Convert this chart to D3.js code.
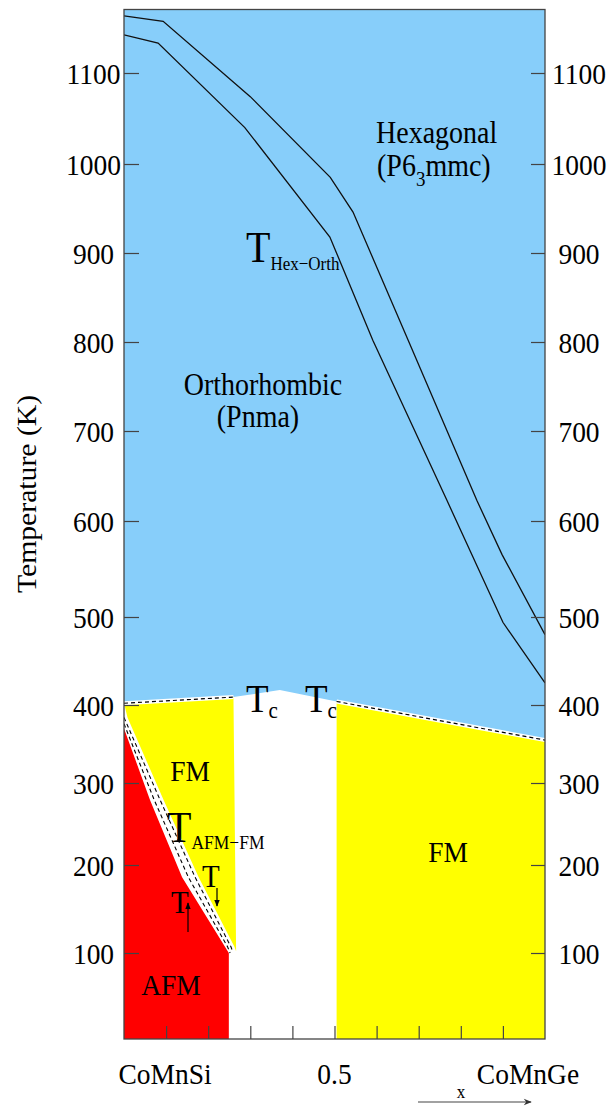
<!DOCTYPE html>
<html><head><meta charset="utf-8">
<script src="https://cdn.jsdelivr.net/npm/d3@7"></script>
<style>
body{margin:0;background:#fff}
svg{display:block}
svg text{font-family:"Liberation Serif","DejaVu Serif",serif}
</style>
</head><body>
<svg id="c" width="612" height="1106"></svg>
<script>
// ---------- data ----------
const yTickValues = [100,200,300,400,500,600,700,800,900,1000,1100];
const xTickValues = [0.1,0.2,0.3,0.4,0.5,0.6,0.7,0.8,0.9];
const xLabels = [{v:0.1,t:"CoMnSi"},{v:0.5,t:"0.5"},{v:0.96,t:"CoMnGe"}];
// T_Hex-Orth boundaries (composition x, temperature K)
const hexOrthUpper = [[0,1163],[0.093,1157],[0.3,1074],[0.49,985],[0.544,946],[0.675,802],[0.838,623],[0.898,565],[1,480]];
const hexOrthLower = [[0,1142],[0.081,1133],[0.287,1040],[0.489,918],[0.591,802],[0.767,623],[0.9,494],[1,425]];
// Curie temperature line
const tcLine = [[0,402],[0.26,409],[0.37,417],[0.505,404],[1,355]];
// AFM region edge and hysteresis lines
const afmEdge = [[0,370],[0.062,279],[0.138,186],[0.249,100]];
const tUpLine = [[0,376],[0.072,279],[0.153,186],[0.246,107],[0.252,100]];
const tDownLine = [[0,384],[0.086,279],[0.169,186],[0.254,107],[0.258,102]];
const fmLeftMax = 0.26, fmRightMin = 0.505;

// ---------- scales ----------
const svg = d3.select("#c");
const FONT = "Liberation Serif, DejaVu Serif, serif";
const L = 124, R = 545, TOP = 9.5, BOT = 1039;
const x = d3.scaleLinear().domain([0,1]).range([L,R]);
// axis of the original figure is slightly irregular: calibrated on its ticks
const y = d3.scaleLinear()
  .domain([0,100,200,300,400,500,600,700,800,900,1000,1100,1170])
  .range([BOT,953,865,783,705,617,521,431,342,253,164,73,TOP]);

const BLUE="#87cefa", YEL="#ffff00", RED="#ff0000";

const defs = svg.append("defs");
defs.append("clipPath").attr("id","clip").append("rect")
  .attr("x",L).attr("y",TOP).attr("width",R-L).attr("height",BOT-TOP);
defs.append("marker").attr("id","ah").attr("viewBox","0 0 10 10")
  .attr("refX",9).attr("refY",5).attr("markerWidth",7).attr("markerHeight",7)
  .attr("orient","auto").attr("markerUnits","userSpaceOnUse")
  .append("path").attr("d","M0,1 L10,5 L0,9 Z").attr("fill","#000");
defs.append("marker").attr("id","ah2").attr("viewBox","0 0 10 10")
  .attr("refX",9).attr("refY",5).attr("markerWidth",12).attr("markerHeight",8)
  .attr("orient","auto").attr("markerUnits","userSpaceOnUse")
  .append("path").attr("d","M0,1 L10,5 L0,9 L3,5 Z").attr("fill","#333");

const g = svg.append("g").attr("clip-path","url(#clip)");
g.append("rect").attr("x",L).attr("y",TOP).attr("width",R-L).attr("height",BOT-TOP).attr("fill",BLUE);

const line = d3.line().x(d=>x(d[0])).y(d=>y(d[1]));
// white area under Tc
g.append("path").datum(tcLine)
  .attr("d", d3.area().x(d=>x(d[0])).y0(y(0)).y1(d=>y(d[1])))
  .attr("fill","#fff");
// yellow FM (left): below Tc, right of hysteresis band
const leftTop = tcLine.filter(d=>d[0]<=fmLeftMax);
const leftPoly = leftTop.map(d=>[x(d[0]),y(d[1])])
  .concat(tDownLine.slice().reverse().map(d=>[x(d[0])+3.5,y(d[1])]));
g.append("path").attr("d","M"+leftPoly.join("L")+"Z").attr("fill",YEL);
// yellow FM (right)
const rightTop = tcLine.filter(d=>d[0]>=fmRightMin);
g.append("path").datum(rightTop)
  .attr("d", d3.area().x(d=>x(d[0])).y0(y(0)).y1(d=>y(d[1])))
  .attr("fill",YEL);
// red AFM
const redPts = [[0,0]].concat(afmEdge).concat([[afmEdge[afmEdge.length-1][0],0]]);
g.append("path").datum(redPts).attr("d", line).attr("fill",RED);
// hysteresis dashed lines
[tUpLine,tDownLine].forEach(a=>{
  g.append("path").datum(a).attr("d",line).attr("fill","none")
   .attr("stroke","#000").attr("stroke-width",1.1).attr("stroke-dasharray","4,3");
});
// Tc dashed line segments
[leftTop, rightTop].forEach(a=>{
  g.append("path").datum(a).attr("d",line).attr("fill","none")
   .attr("stroke","#fff").attr("stroke-width",4);
  g.append("path").datum(a).attr("d",line).attr("fill","none")
   .attr("stroke","#000").attr("stroke-width",1.2).attr("stroke-dasharray","4,3");
});
// Hex-Orth lines
[hexOrthUpper,hexOrthLower].forEach(a=>{
  g.append("path").datum(a).attr("d",line).attr("fill","none")
   .attr("stroke","#111").attr("stroke-width",1.3);
});

// ---------- axes ----------
const ax = svg.append("g");
ax.append("rect").attr("x",L).attr("y",TOP).attr("width",R-L).attr("height",BOT-TOP)
  .attr("fill","none").attr("stroke","#444").attr("stroke-width",1.3);
const leftAxis = d3.axisLeft(y).tickValues(yTickValues).tickSize(-15).tickFormat("");
const rightAxis = d3.axisRight(y).tickValues(yTickValues).tickSize(-14).tickFormat("");
const botAxis = d3.axisBottom(x).tickValues(xTickValues).tickSize(-13).tickFormat("");
[[leftAxis,`translate(${L},0)`],[rightAxis,`translate(${R},0)`],[botAxis,`translate(0,${BOT})`]].forEach(([a,t])=>{
  const gg = ax.append("g").attr("transform",t).call(a);
  gg.select(".domain").remove();
  gg.selectAll("line").attr("stroke","#444").attr("stroke-width",1.2);
});

// text helper: slight vertical stretch like the original
const SY = 1.1;
function txt(px, py, parts, size, anchor, rot){
  const t = svg.append("text")
    .attr("transform",`translate(${px},${py}) scale(1,${SY})`+(rot?` rotate(${rot})`:""))
    .attr("text-anchor",anchor||"middle").attr("font-size",size)
    .style("font-family",FONT).attr("fill","#000");
  parts.forEach(p=>{
    if(typeof p==="string") t.append("tspan").text(p);
    else t.append("tspan").text(p.t).attr("font-size",p.s).attr("dy",p.dy||0);
  });
  return t;
}
// tick labels
yTickValues.forEach(v=>{
  txt(93.5, y(v)+10.5, [String(v)], 27.5, "middle");
  txt(579, y(v)+10.5, [String(v)], 27.5, "middle");
});
xLabels.forEach(d=>{
  const cx = d.t==="CoMnSi" ? 165 : d.t==="CoMnGe" ? 528 : x(d.v);
  txt(cx, 1084, [d.t], 27.5, "middle");
});
txt(36, 494, ["Temperature (K)"], 27, "middle", -90);
// x arrow
txt(461, 1097.5, ["x"], 17, "middle");
svg.append("line").attr("x1",418).attr("x2",531).attr("y1",1102).attr("y2",1102)
  .attr("stroke","#444").attr("stroke-width",1.2).attr("marker-end","url(#ah2)");

// region labels
txt(376, 143, ["Hexagonal"], 28, "start");
txt(377, 176, ["(P6", {t:"3",s:19,dy:9}, {t:"mmc)",s:28,dy:-9}], 28, "start");
txt(246, 262, ["T", {t:"Hex\u2212Orth",s:17,dy:7}], 40, "start");
txt(263, 395, ["Orthorhombic"], 28, "middle");
txt(258, 427, ["(Pnma)"], 28, "middle");
txt(246, 712, ["T", {t:"c",s:21,dy:5}], 37, "start");
txt(305, 712, ["T", {t:"c",s:21,dy:5}], 37, "start");
txt(190, 781, ["FM"], 27.5, "middle");
txt(167, 842, ["T", {t:"AFM\u2212FM",s:17.5,dy:6}], 40, "start");
txt(202, 887, ["T"], 29, "start");
txt(171, 913, ["T"], 29, "start");
txt(171, 995, ["AFM"], 27.5, "middle");
txt(448, 862, ["FM"], 27.5, "middle");
svg.append("line").attr("x1",217).attr("x2",217).attr("y1",888).attr("y2",906)
  .attr("stroke","#000").attr("stroke-width",1.2).attr("marker-end","url(#ah)");
svg.append("line").attr("x1",188).attr("x2",188).attr("y1",932).attr("y2",903)
  .attr("stroke","#000").attr("stroke-width",1.2).attr("marker-end","url(#ah)");
</script>
</body></html>
